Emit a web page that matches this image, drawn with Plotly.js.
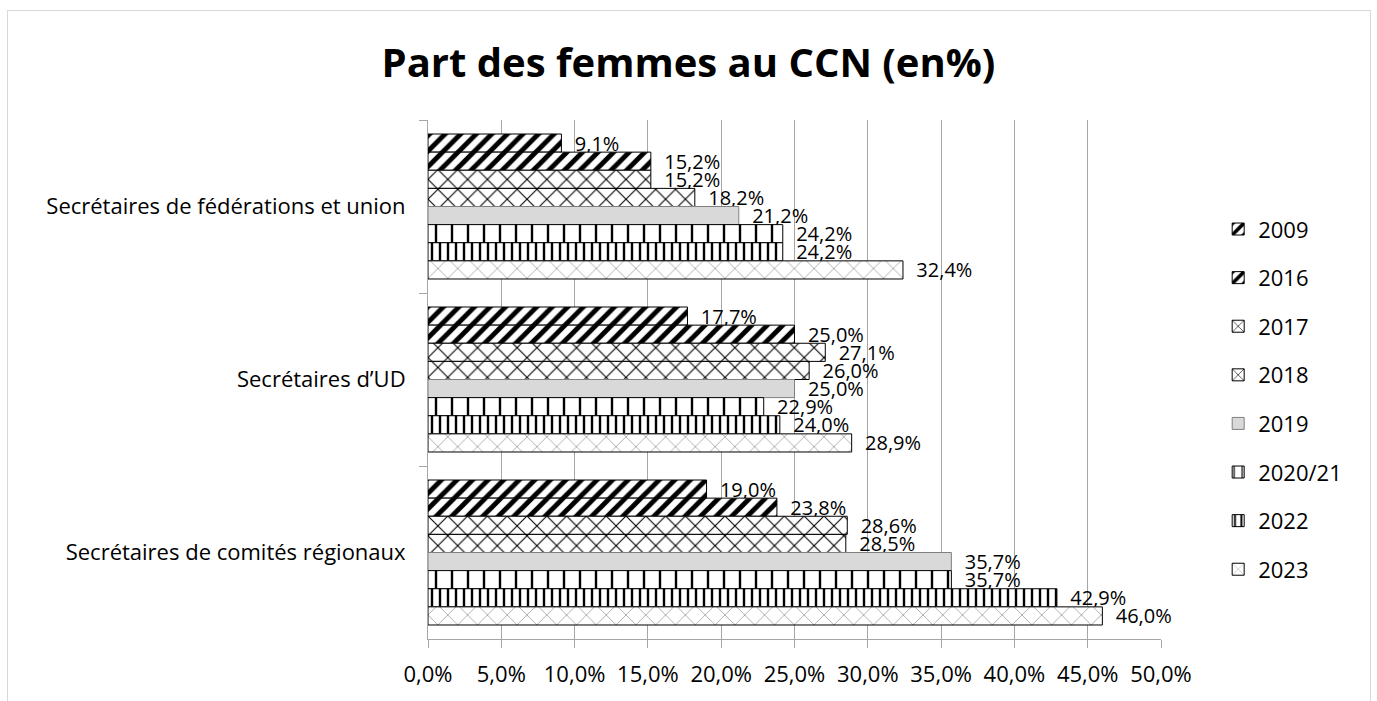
<!DOCTYPE html>
<html><head><meta charset="utf-8">
<script src="https://cdn.plot.ly/plotly-3.0.1.min.js"></script>
<style>html,body{margin:0;padding:0;background:#fff;}#frame{position:absolute;left:7px;top:10px;width:1362px;height:700px;border:1px solid #d9d9d9;pointer-events:none;}</style>
</head><body>
<div id="chart" style="width:1377px;height:701px;"></div>
<div id="frame"></div>
<script>
const categories = ["Secrétaires de fédérations et union", "Secrétaires d\u2019UD", "Secrétaires de comités régionaux"];
const seriesNames = ["2009", "2016", "2017", "2018", "2019", "2020/21", "2022", "2023"];
const v2009 = [9.1, 17.7, 19.0];
const v2016 = [15.2, 25.0, 23.8];
const v2017 = [15.2, 27.1, 28.6];
const v2018 = [18.2, 26.0, 28.5];
const v2019 = [21.2, 25.0, 35.7];
const v2020 = [24.2, 22.9, 35.7];
const v2022 = [24.2, 24.0, 42.9];
const v2023 = [32.4, 28.9, 46.0];
const seriesValues = [v2009, v2016, v2017, v2018, v2019, v2020, v2022, v2023];

const patterns = [
  {shape: "/", fgcolor: "#000", bgcolor: "#fff", size: 11, solidity: 0.45},
  {shape: "/", fgcolor: "#000", bgcolor: "#fff", size: 11, solidity: 0.45},
  {shape: "x", fgcolor: "#000", bgcolor: "#fff", size: 14, solidity: 0.15},
  {shape: "x", fgcolor: "#000", bgcolor: "#fff", size: 14, solidity: 0.15},
  null,
  {shape: "|", fgcolor: "#000", bgcolor: "#fff", size: 16, solidity: 0.15},
  {shape: "|", fgcolor: "#000", bgcolor: "#fff", size: 8, solidity: 0.3},
  {shape: "x", fgcolor: "#a6a6a6", bgcolor: "#fff", size: 14, solidity: 0.12}
];

const FONT = "Open Sans, sans-serif";
const fmt = v => "\u00a0\u00a0" + v.toFixed(1).replace('.', ',') + '%';

const traces = seriesNames.map((name, i) => {
  const marker = {line: {color: "#000", width: 1}};
  if (patterns[i]) { marker.color = "#fff"; marker.pattern = patterns[i]; }
  else { marker.color = "#d9d9d9"; marker.line = {color: "#808080", width: 1}; }
  return {
    type: "bar", orientation: "h", name: name,
    y: categories, x: seriesValues[i],
    text: seriesValues[i].map(fmt), textposition: "outside", cliponaxis: false,
    constraintext: "none",
    textfont: {family: FONT, size: 20, color: "#000"},
    marker: marker, legendgroup: "g" + i
  };
});

const layout = {
  width: 1377, height: 701,
  margin: {l: 428, r: 216, t: 120, b: 62},
  paper_bgcolor: "#fff", plot_bgcolor: "#fff",
  separators: ", ",
  barmode: "group", bargap: 0.162, bargroupgap: 0,
  title: {text: "Part des femmes au CCN (en%)", x: 0.5, xref: "container", xanchor: "center",
          y: 0.91, yref: "container", yanchor: "middle",
          font: {family: FONT, size: 40, color: "#000", weight: "bold"}},
  font: {family: FONT, size: 22, color: "#000"},
  xaxis: {range: [0, 50], dtick: 5, tickformat: ".1f", ticksuffix: "%",
          showgrid: true, gridcolor: "#a6a6a6", gridwidth: 1,
          showline: true, linecolor: "#a6a6a6", ticks: "outside", ticklen: 8, tickcolor: "#a6a6a6",
          zeroline: false, tickfont: {size: 22}, ticklabelstandoff: 8},
  yaxis: {autorange: "reversed", type: "category", showline: true, linecolor: "#a6a6a6",
          ticks: "outside", ticklen: 8, tickcolor: "#a6a6a6", tickson: "boundaries",
          showgrid: false, tickfont: {size: 22}, ticklabelstandoff: 17},
  legend: {x: 1.078, xanchor: "left", y: 0.83, yanchor: "top", traceorder: "grouped",
           tracegroupgap: 17, font: {size: 22}, itemwidth: 30, bgcolor: "rgba(0,0,0,0)"},
  showlegend: true
};

Plotly.newPlot("chart", traces, layout, {displayModeBar: false, staticPlot: true});
</script>
</body></html>
